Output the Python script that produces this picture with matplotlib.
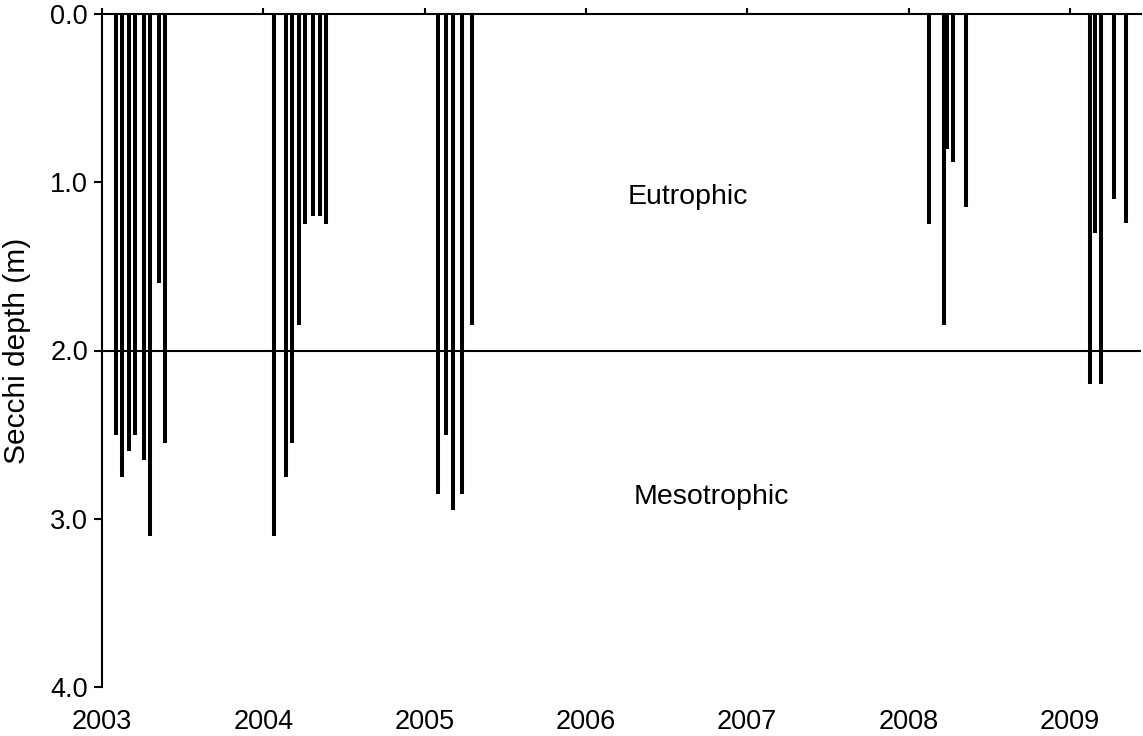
import matplotlib
matplotlib.use("Agg")
import matplotlib.pyplot as plt

plt.rcParams['font.family'] = ['Liberation Sans', 'DejaVu Sans']

# Sampling dates (decimal years) and Secchi depths (m)
dates_2003 = [2003.087, 2003.126, 2003.167, 2003.205, 2003.260, 2003.298, 2003.353, 2003.392]
depth_2003 = [2.50, 2.75, 2.60, 2.50, 2.65, 3.10, 1.60, 2.55]

dates_2004 = [2004.068, 2004.141, 2004.178, 2004.219, 2004.257, 2004.310, 2004.351, 2004.390]
depth_2004 = [3.10, 2.75, 2.55, 1.85, 1.25, 1.20, 1.20, 1.25]

dates_2005 = [2005.081, 2005.133, 2005.174, 2005.230, 2005.292]
depth_2005 = [2.85, 2.50, 2.95, 2.85, 1.85]

dates_2008 = [2008.129, 2008.220, 2008.240, 2008.274, 2008.355]
depth_2008 = [1.25, 1.85, 0.80, 0.88, 1.15]

dates_2009 = [2009.125, 2009.156, 2009.193, 2009.274, 2009.347]
depth_2009 = [2.20, 1.30, 2.20, 1.10, 1.24]

dates = dates_2003 + dates_2004 + dates_2005 + dates_2008 + dates_2009
depths = depth_2003 + depth_2004 + depth_2005 + depth_2008 + depth_2009

year_ticks = [2003, 2004, 2005, 2006, 2007, 2008, 2009]
year_labels = ['2003', '2004', '2005', '2006', '2007', '2008', '2009']
depth_ticks = [0.0, 1.0, 2.0, 3.0, 4.0]
depth_labels = ['0.0', '1.0', '2.0', '3.0', '4.0']
threshold = 2.0

W, H = 1143, 736
fig = plt.figure(figsize=(W / 100, H / 100), dpi=100)
left, right, top, bottom = 102, 1141, 14, 687
ax = fig.add_axes([left / W, 1 - bottom / H, (right - left) / W, (bottom - top) / H])

ax.vlines(dates, 0, depths, colors='black', linewidth=2.9)
ax.axhline(threshold, color='black', linewidth=1.5)

ax.set_xlim(2003, 2003 + (right - left) / 161.3)
ax.set_ylim(4.0, 0.0)

ax.spines['right'].set_visible(False)
ax.spines['bottom'].set_visible(False)
ax.spines['left'].set_linewidth(1.5)
ax.spines['top'].set_linewidth(1.5)

ax.set_yticks(depth_ticks)
ax.set_yticklabels(depth_labels, fontsize=19.5)
ax.tick_params(axis='y', direction='out', length=6, width=1.5, pad=4)

ax.set_xticks(year_ticks)
ax.set_xticklabels(year_labels, fontsize=19.5)
ax.tick_params(axis='x', top=True, bottom=False, labeltop=False, labelbottom=True,
               direction='out', length=4, width=1.5, pad=12)

ax.set_ylabel('Secchi depth (m)', fontsize=21.5)
ax.yaxis.set_label_coords(-(left - 17) / (right - left), 0.5)
ax.yaxis.label.set_va('center')

ax.text(2006.63, 1.09, 'Eutrophic', fontsize=20.5, ha='center', va='center')
ax.text(2006.78, 2.87, 'Mesotrophic', fontsize=20.5, ha='center', va='center')

fig.savefig('out.png', dpi=100)
